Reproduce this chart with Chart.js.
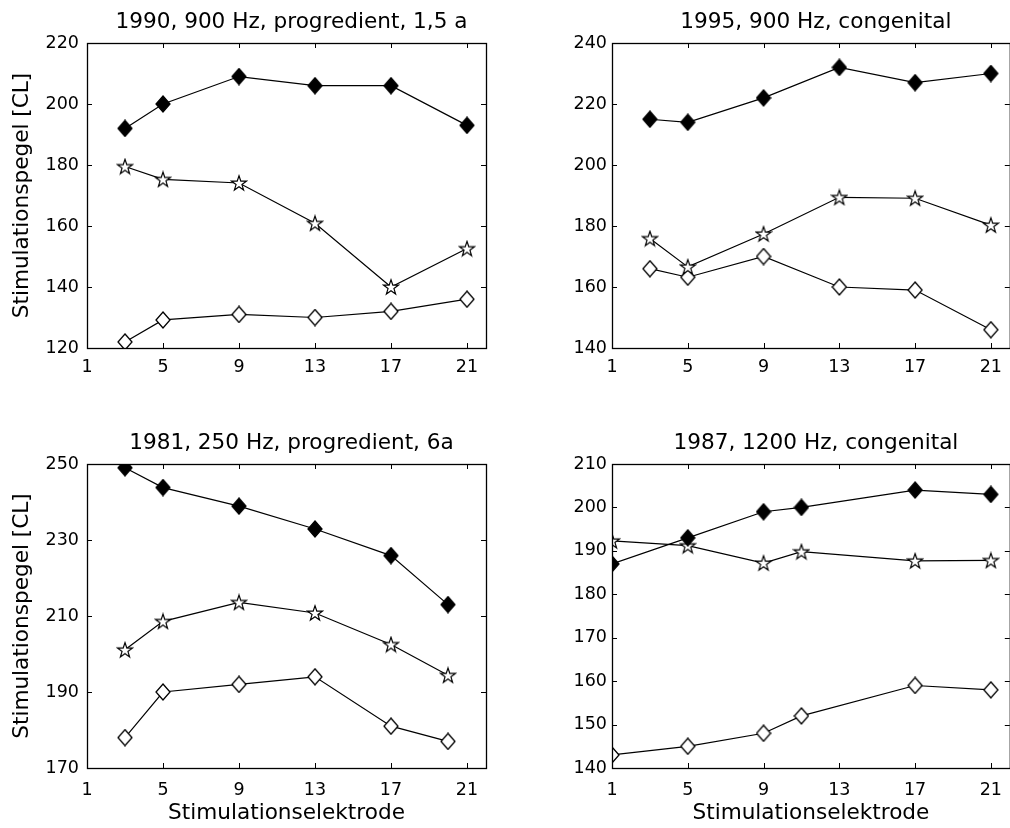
<!DOCTYPE html>
<html lang="de">
<head>
<meta charset="UTF-8">
<title>Stimulationspegel</title>
<script src="https://cdn.jsdelivr.net/npm/chart.js@4.4.0/dist/chart.umd.min.js"></script>
<style>
    html, body { margin: 0; padding: 0; background: #fff; overflow: hidden; }
    #page { position: relative; width: 1010px; height: 828px; overflow: hidden; }
    .panel { position: absolute; }
</style>
</head>
<body>
<div id="page">
    <div class="panel" style="left:0;top:0;width:505px;height:410px"><canvas id="c1" width="505" height="410"></canvas></div>
    <div class="panel" style="left:505px;top:0;width:510px;height:410px"><canvas id="c2" width="510" height="410"></canvas></div>
    <div class="panel" style="left:0;top:410px;width:505px;height:418px"><canvas id="c3" width="505" height="418"></canvas></div>
    <div class="panel" style="left:505px;top:410px;width:510px;height:418px"><canvas id="c4" width="510" height="418"></canvas></div>
</div>
<script>
// x ticks (electrode numbers) shared by all panels
const xTicks = [1, 5, 9, 13, 17, 21];

// 1990, 900 Hz, progredient, 1,5 a
const elec1 = [3, 5, 9, 13, 17, 21];
const upper1 = [192, 200, 209, 206, 206, 193];
const middle1 = [179.5, 175.3, 174.1, 160.9, 140, 152.6];
const lower1 = [122, 129.2, 131, 130, 132, 136];
const yTicks1 = [120, 140, 160, 180, 200, 220];

// 1995, 900 Hz, congenital
const elec2 = [3, 5, 9, 13, 17, 21];
const upper2 = [215, 214, 222, 232, 227, 230];
const middle2 = [175.9, 166.6, 177.4, 189.4, 189.1, 180.3];
const lower2 = [166, 163.2, 170, 160, 159, 146];
const yTicks2 = [140, 160, 180, 200, 220, 240];

// 1981, 250 Hz, progredient, 6a
const elec3 = [3, 5, 9, 13, 17, 20];
const upper3 = [249, 243.8, 238.9, 232.9, 225.9, 213];
const middle3 = [201.1, 208.6, 213.6, 210.8, 202.5, 194.4];
const lower3 = [178, 190, 192, 194, 181, 177];
const yTicks3 = [170, 190, 210, 230, 250];

// 1987, 1200 Hz, congenital
const elec4 = [1, 5, 9, 11, 17, 21];
const upper4 = [187, 193, 199, 200, 204, 203];
const middle4 = [192.3, 191.2, 187.2, 189.8, 187.7, 187.8];
const lower4 = [143, 145, 148, 152, 159, 158];
const yTicks4 = [140, 150, 160, 170, 180, 190, 200, 210];

const FONT = "'DejaVu Sans', sans-serif";

// marker images (matlab style: filled diamond, pentagram, open diamond)
function diamond(filled) {
    const c = document.createElement('canvas');
    c.width = 16; c.height = 18;
    const g = c.getContext('2d');
    g.beginPath();
    g.moveTo(8, 1); g.lineTo(15, 9); g.lineTo(8, 17); g.lineTo(1, 9);
    g.closePath();
    g.fillStyle = filled ? '#000' : '#fff';
    g.fill();
    g.strokeStyle = '#000';
    g.lineWidth = 1.3;
    g.stroke();
    return c;
}

function pentagram() {
    const c = document.createElement('canvas');
    c.width = 18; c.height = 18;
    const g = c.getContext('2d');
    const cx = 9, cy = 9.6, ro = 7.8, ri = 3.1;
    g.beginPath();
    for (let i = 0; i < 10; i++) {
        const r = i % 2 === 0 ? ro : ri;
        const a = -Math.PI / 2 + i * Math.PI / 5;
        const px = cx + r * Math.cos(a), py = cy + r * Math.sin(a);
        if (i === 0) g.moveTo(px, py); else g.lineTo(px, py);
    }
    g.closePath();
    g.fillStyle = '#fff';
    g.fill();
    g.strokeStyle = '#000';
    g.lineWidth = 1.2;
    g.stroke();
    return c;
}

const mFilled = diamond(true);
const mOpen = diamond(false);
const mStar = pentagram();

// box with inward ticks on all four sides
const frame = {
    id: 'frame',
    afterLayout(chart) {
        // titles sit a little right of the axes centre in the original
        chart.titleBlock.left += 5;
        chart.titleBlock.right += 5;
    },
    afterDatasetsDraw(chart) {
        const {ctx, chartArea: a, scales: {x, y}} = chart;
        ctx.save();
        ctx.strokeStyle = '#000';
        ctx.lineWidth = 1;
        ctx.beginPath();
        x.ticks.forEach(t => {
            const px = Math.round(x.getPixelForValue(t.value)) + 0.5;
            ctx.moveTo(px, a.bottom); ctx.lineTo(px, a.bottom - 5);
            ctx.moveTo(px, a.top); ctx.lineTo(px, a.top + 5);
        });
        y.ticks.forEach(t => {
            const py = Math.round(y.getPixelForValue(t.value)) + 0.5;
            ctx.moveTo(a.left, py); ctx.lineTo(a.left + 5, py);
            ctx.moveTo(a.right, py); ctx.lineTo(a.right - 5, py);
        });
        ctx.stroke();
        ctx.lineWidth = 1.3;
        ctx.strokeRect(a.left + 0.5, a.top + 0.5, a.right - a.left, a.bottom - a.top);
        ctx.restore();
    }
};

function series(xs, ys, marker) {
    return {
        data: xs.map((v, i) => ({x: v, y: ys[i]})),
        borderColor: '#000',
        borderWidth: 1.2,
        backgroundColor: '#000',
        pointStyle: marker,
        tension: 0,
        fill: false
    };
}

function panel(id, title, xs, up, mid, low, yTicks, o) {
    new Chart(document.getElementById(id), {
        type: 'line',
        data: {
            datasets: [
                series(xs, up, mFilled),
                series(xs, mid, mStar),
                series(xs, low, mOpen)
            ]
        },
        options: {
            responsive: false,
            animation: false,
            events: [],
            layout: {padding: {left: 0, right: o.right, top: 0, bottom: 0}},
            plugins: {
                legend: {display: false},
                tooltip: {enabled: false},
                title: {
                    display: true,
                    text: title,
                    fullSize: false,
                    color: '#000',
                    font: {family: FONT, size: 21.6, weight: 'normal', lineHeight: 1},
                    padding: {top: o.titleTop - 31.6, bottom: 10}
                }
            },
            scales: {
                x: {
                    type: 'linear',
                    min: 1,
                    max: 22,
                    afterBuildTicks: s => { s.ticks = xTicks.map(v => ({value: v})); },
                    afterFit: s => {
                        s.height = o.xHeight;
                        // keep the axes box where it is, no room for edge labels
                        s.paddingLeft = 0;
                        s.paddingRight = 0;
                    },
                    grid: {display: false, drawTicks: false},
                    border: {display: false},
                    ticks: {color: '#000', font: {family: FONT, size: 17.5}, padding: o.xPad, maxRotation: 0, autoSkip: false},
                    title: {
                        display: o.xLabel,
                        text: 'Stimulationselektrode',
                        color: '#000',
                        font: {family: FONT, size: 21.6, lineHeight: 1},
                        padding: {top: 0, bottom: 4}
                    }
                },
                y: {
                    type: 'linear',
                    min: yTicks[0],
                    max: yTicks[yTicks.length - 1],
                    afterBuildTicks: s => { s.ticks = yTicks.map(v => ({value: v})); },
                    afterFit: s => { s.width = o.yWidth; },
                    grid: {display: false, drawTicks: false},
                    border: {display: false},
                    ticks: {color: '#000', font: {family: FONT, size: 17.5}, padding: o.yPad, autoSkip: false},
                    title: {
                        display: o.yLabel,
                        text: 'Stimulationspegel [CL]',
                        color: '#000',
                        font: {family: FONT, size: 21.6, lineHeight: 1},
                        padding: {top: 12, bottom: 0}
                    }
                }
            }
        },
        plugins: [frame]
    });
}

panel('c1', '1990, 900 Hz, progredient, 1,5 a', elec1, upper1, middle1, lower1, yTicks1,
    {right: 19, titleTop: 43, xHeight: 62, yWidth: 87, xPad: 8.5, yPad: 8, xLabel: false, yLabel: true});
panel('c2', '1995, 900 Hz, congenital', elec2, upper2, middle2, lower2, yTicks2,
    {right: 3, titleTop: 43, xHeight: 62, yWidth: 107, xPad: 8.5, yPad: 5, xLabel: false, yLabel: false});
panel('c3', '1981, 250 Hz, progredient, 6a', elec3, upper3, middle3, lower3, yTicks3,
    {right: 19, titleTop: 54, xHeight: 60, yWidth: 87, xPad: 12, yPad: 8, xLabel: true, yLabel: true});
panel('c4', '1987, 1200 Hz, congenital', elec4, upper4, middle4, lower4, yTicks4,
    {right: 3, titleTop: 54, xHeight: 60, yWidth: 107, xPad: 12, yPad: 5, xLabel: true, yLabel: false});
</script>
</body>
</html>
